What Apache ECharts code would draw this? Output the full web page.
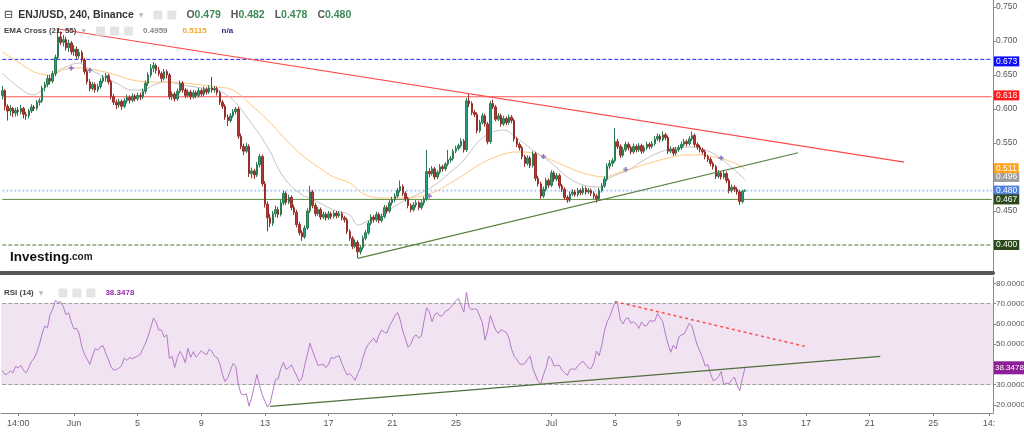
<!DOCTYPE html>
<html><head><meta charset="utf-8">
<script src="https://cdn.jsdelivr.net/npm/echarts@6/dist/echarts.min.js"></script>
<style>html,body{margin:0;padding:0;background:#fff}#c{width:1024px;height:434px}</style>
</head><body><div id="c"></div><script>
// ---- axis ticks ----
const tickIdx = [6,27,51,75,99,123,147,171,207,231,255,279,303,327,351,372];
const tickText = ['14:00','Jun','5','9','13','17','21','25','Jul','5','9','13','17','21','25','14:'];
const slotCount = 374;
// ---- candles (4h) ----
const open = [0.620,0.627,0.604,0.597,0.601,0.594,0.598,0.596,0.601,0.592,0.590,0.597,0.603,0.601,0.610,0.612,0.631,0.636,0.645,0.641,
0.652,0.676,0.706,0.698,0.702,0.690,0.697,0.684,0.688,0.678,0.683,0.672,0.655,0.640,0.630,0.636,0.628,0.633,0.641,0.646,
0.649,0.640,0.618,0.610,0.606,0.611,0.604,0.612,0.617,0.613,0.619,0.615,0.620,0.618,0.626,0.638,0.650,0.660,0.664,0.657,
0.652,0.645,0.655,0.650,0.618,0.622,0.615,0.626,0.638,0.628,0.620,0.625,0.618,0.624,0.620,0.627,0.622,0.629,0.625,0.631,
0.628,0.630,0.624,0.610,0.604,0.588,0.583,0.590,0.596,0.600,0.560,0.545,0.538,0.545,0.505,0.509,0.503,0.518,0.530,0.490,
0.460,0.440,0.432,0.446,0.452,0.445,0.462,0.476,0.463,0.470,0.455,0.448,0.430,0.418,0.412,0.425,0.450,0.478,0.458,0.446,
0.452,0.441,0.445,0.440,0.446,0.442,0.447,0.443,0.446,0.440,0.437,0.420,0.410,0.398,0.404,0.390,0.396,0.410,0.418,0.432,
0.441,0.437,0.445,0.436,0.442,0.455,0.450,0.462,0.467,0.472,0.480,0.486,0.476,0.468,0.458,0.452,0.459,0.462,0.455,0.462,
0.468,0.508,0.505,0.512,0.500,0.507,0.515,0.512,0.519,0.525,0.527,0.538,0.542,0.546,0.553,0.540,0.612,0.608,0.595,0.592,
0.568,0.580,0.590,0.578,0.552,0.608,0.603,0.585,0.590,0.578,0.586,0.580,0.588,0.583,0.556,0.548,0.543,0.530,0.520,0.528,
0.517,0.534,0.498,0.490,0.472,0.482,0.495,0.488,0.506,0.497,0.502,0.487,0.482,0.470,0.466,0.475,0.478,0.474,0.480,0.477,
0.483,0.478,0.480,0.476,0.472,0.468,0.480,0.487,0.497,0.516,0.520,0.524,0.552,0.545,0.532,0.540,0.548,0.543,0.537,0.545,
0.540,0.546,0.538,0.543,0.548,0.545,0.549,0.556,0.560,0.555,0.562,0.558,0.538,0.541,0.535,0.540,0.543,0.548,0.552,0.549,
0.556,0.561,0.548,0.544,0.540,0.537,0.530,0.526,0.520,0.515,0.501,0.506,0.500,0.505,0.495,0.480,0.485,0.482,0.478,0.464,0.479];
const high = [0.634,0.629,0.607,0.606,0.603,0.602,0.603,0.606,0.603,0.596,0.600,0.607,0.606,0.613,0.616,0.634,0.640,0.650,0.650,0.656,
0.680,0.718,0.714,0.709,0.706,0.702,0.700,0.694,0.692,0.688,0.686,0.675,0.659,0.644,0.640,0.639,0.637,0.645,0.650,0.653,
0.652,0.643,0.622,0.614,0.615,0.614,0.616,0.621,0.620,0.623,0.622,0.624,0.624,0.630,0.642,0.654,0.666,0.669,0.667,0.662,
0.655,0.659,0.658,0.653,0.626,0.625,0.630,0.642,0.641,0.631,0.629,0.628,0.628,0.627,0.631,0.630,0.633,0.632,0.635,0.647,
0.634,0.633,0.627,0.613,0.607,0.592,0.594,0.600,0.603,0.603,0.564,0.549,0.550,0.548,0.514,0.512,0.522,0.534,0.533,0.494,
0.464,0.446,0.450,0.458,0.456,0.466,0.480,0.479,0.474,0.473,0.459,0.452,0.434,0.422,0.429,0.454,0.487,0.481,0.462,0.456,
0.455,0.449,0.448,0.450,0.449,0.451,0.450,0.450,0.449,0.443,0.440,0.423,0.413,0.408,0.407,0.400,0.414,0.422,0.436,0.445,
0.444,0.449,0.448,0.446,0.459,0.458,0.466,0.471,0.476,0.484,0.495,0.489,0.479,0.471,0.461,0.463,0.466,0.465,0.466,0.471,
0.540,0.513,0.516,0.515,0.510,0.519,0.518,0.522,0.540,0.531,0.541,0.546,0.549,0.557,0.556,0.616,0.622,0.611,0.599,0.595,
0.584,0.594,0.593,0.581,0.612,0.614,0.606,0.594,0.593,0.590,0.589,0.592,0.591,0.586,0.559,0.551,0.546,0.533,0.532,0.531,
0.538,0.537,0.502,0.493,0.486,0.499,0.498,0.510,0.509,0.506,0.505,0.490,0.485,0.473,0.479,0.482,0.481,0.484,0.483,0.487,
0.486,0.484,0.483,0.479,0.475,0.484,0.491,0.501,0.520,0.525,0.528,0.572,0.556,0.548,0.544,0.552,0.551,0.546,0.549,0.548,
0.550,0.549,0.547,0.552,0.551,0.553,0.560,0.564,0.563,0.567,0.565,0.561,0.545,0.544,0.544,0.547,0.552,0.556,0.555,0.560,
0.567,0.564,0.551,0.547,0.543,0.540,0.533,0.529,0.523,0.518,0.510,0.509,0.509,0.508,0.498,0.489,0.488,0.485,0.481,0.481,0.482];
const low = [0.614,0.598,0.583,0.590,0.588,0.589,0.590,0.592,0.586,0.584,0.586,0.594,0.597,0.598,0.605,0.609,0.626,0.632,0.636,0.638,
0.648,0.672,0.694,0.692,0.686,0.684,0.680,0.678,0.674,0.674,0.668,0.651,0.636,0.626,0.627,0.624,0.625,0.630,0.638,0.640,
0.636,0.614,0.606,0.600,0.602,0.599,0.601,0.608,0.608,0.610,0.611,0.612,0.613,0.615,0.622,0.634,0.646,0.654,0.652,0.648,
0.640,0.642,0.645,0.614,0.613,0.611,0.612,0.623,0.624,0.616,0.617,0.614,0.615,0.616,0.617,0.618,0.619,0.621,0.622,0.624,
0.624,0.620,0.606,0.600,0.584,0.575,0.580,0.587,0.592,0.556,0.541,0.532,0.535,0.500,0.498,0.497,0.500,0.514,0.486,0.455,
0.420,0.426,0.428,0.441,0.440,0.442,0.458,0.459,0.460,0.451,0.444,0.426,0.414,0.406,0.409,0.422,0.447,0.454,0.442,0.443,
0.437,0.438,0.436,0.437,0.438,0.439,0.439,0.440,0.436,0.433,0.416,0.406,0.394,0.395,0.381,0.386,0.393,0.407,0.415,0.429,
0.433,0.434,0.432,0.433,0.439,0.446,0.447,0.458,0.463,0.469,0.477,0.472,0.464,0.454,0.448,0.449,0.455,0.451,0.452,0.458,
0.465,0.500,0.502,0.496,0.497,0.504,0.508,0.509,0.516,0.521,0.524,0.535,0.539,0.543,0.536,0.537,0.603,0.591,0.588,0.564,
0.565,0.577,0.574,0.548,0.549,0.600,0.582,0.582,0.574,0.575,0.576,0.577,0.579,0.552,0.544,0.539,0.526,0.515,0.517,0.513,
0.514,0.494,0.486,0.468,0.469,0.479,0.484,0.485,0.493,0.494,0.483,0.478,0.466,0.462,0.463,0.472,0.471,0.471,0.473,0.474,
0.474,0.475,0.472,0.468,0.462,0.465,0.477,0.484,0.494,0.512,0.515,0.521,0.541,0.528,0.529,0.537,0.539,0.533,0.534,0.536,
0.537,0.534,0.535,0.540,0.541,0.542,0.546,0.553,0.551,0.552,0.554,0.534,0.535,0.531,0.532,0.537,0.540,0.545,0.545,0.546,
0.553,0.544,0.540,0.536,0.533,0.526,0.522,0.516,0.511,0.497,0.498,0.496,0.497,0.491,0.476,0.477,0.478,0.474,0.459,0.461,0.478];
const close = [0.627,0.604,0.597,0.601,0.594,0.598,0.596,0.601,0.592,0.590,0.597,0.603,0.601,0.610,0.612,0.631,0.636,0.645,0.641,0.652,
0.676,0.706,0.698,0.702,0.690,0.697,0.684,0.688,0.678,0.683,0.672,0.655,0.640,0.630,0.636,0.628,0.633,0.641,0.646,0.649,
0.640,0.618,0.610,0.606,0.611,0.604,0.612,0.617,0.613,0.619,0.615,0.620,0.618,0.626,0.638,0.650,0.660,0.664,0.657,0.652,
0.645,0.655,0.650,0.618,0.622,0.615,0.626,0.638,0.628,0.620,0.625,0.618,0.624,0.620,0.627,0.622,0.629,0.625,0.631,0.628,
0.630,0.624,0.610,0.604,0.588,0.583,0.590,0.596,0.600,0.560,0.545,0.538,0.545,0.505,0.509,0.503,0.518,0.530,0.490,0.460,
0.440,0.432,0.446,0.452,0.445,0.462,0.476,0.463,0.470,0.455,0.448,0.430,0.418,0.412,0.425,0.450,0.478,0.458,0.446,0.452,
0.441,0.445,0.440,0.446,0.442,0.447,0.443,0.446,0.440,0.437,0.420,0.410,0.398,0.404,0.390,0.396,0.410,0.418,0.432,0.441,
0.437,0.445,0.436,0.442,0.455,0.450,0.462,0.467,0.472,0.480,0.486,0.476,0.468,0.458,0.452,0.459,0.462,0.455,0.462,0.468,
0.508,0.505,0.512,0.500,0.507,0.515,0.512,0.519,0.525,0.527,0.538,0.542,0.546,0.553,0.540,0.612,0.608,0.595,0.592,0.568,
0.580,0.590,0.578,0.552,0.608,0.603,0.585,0.590,0.578,0.586,0.580,0.588,0.583,0.556,0.548,0.543,0.530,0.520,0.528,0.517,
0.534,0.498,0.490,0.472,0.482,0.495,0.488,0.506,0.497,0.502,0.487,0.482,0.470,0.466,0.475,0.478,0.474,0.480,0.477,0.483,
0.478,0.480,0.476,0.472,0.468,0.480,0.487,0.497,0.516,0.520,0.524,0.552,0.545,0.532,0.540,0.548,0.543,0.537,0.545,0.540,
0.546,0.538,0.543,0.548,0.545,0.549,0.556,0.560,0.555,0.562,0.558,0.538,0.541,0.535,0.540,0.543,0.548,0.552,0.549,0.556,
0.561,0.548,0.544,0.540,0.537,0.530,0.526,0.520,0.515,0.501,0.506,0.500,0.505,0.495,0.480,0.485,0.482,0.478,0.464,0.479,0.480];
// ---- EMA readings [slot, price] ----
const ema21 = [[0,0.6525],[6,0.6324],[12,0.6206],[14,0.625],[17,0.6353],[20,0.653],[24,0.6618],[29,0.6676],[32,0.6603],[37,0.65],
[43,0.6382],[49,0.6279],[53,0.6279],[57,0.6353],[62,0.6397],[68,0.6353],[75,0.6309],[81,0.6279],[87,0.6132],[93,0.5838],
[100,0.5441],[106,0.5],[112,0.4765],[119,0.4632],[125,0.4515],[131,0.4441],[134,0.4294],[137,0.4338],[144,0.4471],[150,0.4618],
[156,0.4735],[162,0.4853],[169,0.5074],[174,0.525],[179,0.55],[184,0.5647],[189,0.5691],[194,0.5574],[200,0.5397],[207,0.5206],
[213,0.5],[219,0.4882],[225,0.4853],[229,0.4985],[236,0.5103],[242,0.525],[248,0.5368],[254,0.5426],[260,0.5441],[267,0.5368],
[273,0.5206],[280,0.4959]];
const ema55 = [[0,0.6838],[6,0.6691],[12,0.6544],[18,0.65],[24,0.6588],[30,0.6603],[37,0.6559],[43,0.65],[49,0.6426],[56,0.6397],
[62,0.6397],[68,0.6382],[75,0.6353],[81,0.6324],[87,0.6279],[93,0.6088],[100,0.5838],[106,0.5588],[112,0.5353],[119,0.5147],
[125,0.5],[131,0.4912],[137,0.4735],[144,0.4691],[150,0.4691],[156,0.4706],[162,0.4765],[169,0.4912],[175,0.5059],[181,0.5206],
[188,0.5324],[194,0.5368],[200,0.5353],[207,0.525],[213,0.5147],[219,0.5059],[227,0.5],[232,0.5059],[238,0.5132],[244,0.5206],
[251,0.5279],[257,0.5324],[263,0.5324],[270,0.5279],[276,0.5206],[280,0.5115]];
const crossPts = [[26,0.660],[33,0.657],[161,0.472],[204,0.530],[235,0.511],[271,0.528]];
// ---- RSI(14) ----
const rsi = [37,35,35.5,36.8,35.9,39,38.4,39.5,37,35.9,38.4,41.5,43,46,50,55,59,58,64.5,67.2,
71.5,70.5,71,68.5,64.5,65.5,61,57.5,57.8,55,48.5,45,42.5,40,44.2,47.8,47,48.8,49.2,45.5,
42.5,38.8,37.2,37.5,38.2,39.6,43.2,42,43.5,42.8,43.5,44,45,47.8,50.5,54,58.5,62.8,60.8,57,
57,53.5,54.6,43,44,38.5,43.4,46.5,44.2,40.9,48,43.5,46.3,43.6,45,46.8,45.5,44.8,47.5,46.5,
44,43.4,40.3,35,31.5,33.5,37,40.5,39,30,25.5,25,25.5,19.5,23.5,29.5,35,29.5,25,21.8,
19,21,27,32.5,33,38,41,37.5,38.5,39.8,37,34.3,31.5,33.5,39.5,45,50.5,46.5,43,39.5,
39.8,40.2,38.4,40.1,43.5,43,43.8,44.3,40.5,37.5,34.8,35.5,34,32.2,35.5,38.4,43.5,47.5,49.9,51.5,
53,50.7,54.5,57,56,55.5,59,61.4,64,65.6,62,56.5,52.5,48.5,50,53.5,54.5,53,54,61.5,
67.9,66,61,64.5,65.5,63.8,64.2,66.2,66.8,68.2,69.5,71.5,72.6,69,65.8,75.5,68,67,67.5,67,
63.8,60.5,52,57,64.2,60.3,57,55.3,57.2,56.5,55.8,53,47.5,44,42.5,40.3,40,40.5,42.5,44.2,
38.2,34.8,31.5,30.5,35,38.5,44,42.8,39.2,39.6,39.5,37.2,35.9,34.6,37.5,37.9,37.5,39.3,40.8,41.5,
39.7,38.3,38,40.8,46.6,44.3,49.5,56.5,61,63.6,67.1,70.8,69.5,62,60,62.5,63,60.3,61,60,
57.8,61,59,59.2,61.5,61.4,61.5,65,63.2,61,55,50,46,49.5,47.6,53.5,54.5,55,57.5,60.3,
59,54,49.5,46.5,43.3,39.2,40,35.5,32,32.5,34,36.5,30,30.8,30.5,32.5,33.8,30,27,33,38.3478];
const rsiLast = 38.3478;
// ---- drawn levels / trend lines ----
const priceLevels = [0.673,0.618,0.480,0.467,0.400];
const emaLast = [0.4959,0.5115];
const redTrend = [[21,0.7176],[340,0.522]];
const greenTrend = [[134,0.3804],[300,0.5357]];
const rsiBand = [30,70];
const rsiRedTrend = [[231,71.0],[303,48.8]];
const rsiGreenTrend = [[101,19.3],[331,44.0]];

// ---- build ----
const cats = [];
const t0 = Date.UTC(2021,4,27,14);
for (let i=0;i<slotCount;i++){ const d=new Date(t0+i*4*3600e3); cats.push(d.toISOString().slice(0,16)); }
const tickMap = {}; tickIdx.forEach((k,j)=>tickMap[k]=tickText[j]);
const candles = close.map((c,i)=>[open[i],close[i],low[i],high[i]]);
const FONT = 'Liberation Sans, Arial, sans-serif';
const NONE = 'rgba(0,0,0,0)';

function boxLabel(text,bg,dy){
  return {show:true,position:'end',distance:1,formatter:text,color:'#fff',backgroundColor:bg,padding:[1,2,0,2],
    fontSize:8.5,lineHeight:9,height:9,fontFamily:FONT,offset:[0,dy||0]};
}
const levelStyle = [
  {color:'#2424ff',type:'dashed',width:1,bg:'#0d0dff',dy:0},
  {color:'#ff5555',type:'solid',width:1,bg:'#ff1a1a',dy:0},
  {color:'#b7cdf4',type:'dotted',width:2,bg:'#4f7fe0',dy:0},
  {color:'#5f8f45',type:'solid',width:1,bg:'#2b4a1c',dy:2},
  {color:'#4a7a35',type:'dashed',width:1,bg:'#2b4a1c',dy:0}
];
const levelSeries = priceLevels.map((v,k)=>({
  type:'line',xAxisIndex:0,yAxisIndex:0,data:[[0,v],[slotCount-1,v]],showSymbol:false,symbol:'none',silent:true,
  lineStyle:{color:levelStyle[k].color,type:levelStyle[k].type,width:levelStyle[k].width},z:1
}));
const chart = echarts.init(document.getElementById('c'), null, {renderer:'canvas'});
const rich = {
  box:{fontSize:11,color:'#666',fontFamily:'DejaVu Sans'},
  main:{fontSize:10.5,color:'#333',fontFamily:FONT},
  arr:{fontSize:6,color:'#bbb',fontFamily:'DejaVu Sans'},
  ic:{backgroundColor:'#e4e4e4',width:9,height:9,borderRadius:1},
  k:{fontSize:10.5,color:'#555',fontFamily:FONT},
  v:{fontSize:10.5,color:'#3d8b58',fontFamily:FONT},
  s:{fontSize:8,color:'#444',fontFamily:FONT},
  g:{fontSize:8,color:'#888',fontFamily:FONT},
  o:{fontSize:8,color:'#f5a623',fontFamily:FONT},
  n:{fontSize:8,color:'#2b2b8c',fontFamily:FONT},
  p:{fontSize:8,color:'#9c27b0',fontFamily:FONT},
  big:{fontSize:13.5,fontWeight:'bold',color:'#111',fontFamily:FONT},
  com:{fontSize:10,color:'#222',fontFamily:FONT}
};
const lastC = close[close.length-1];
chart.setOption({
  animation:false,
  backgroundColor:'#fff',
  title:[
    {left:4,top:6,padding:0,text:'{box|⊟} {main|ENJ/USD, 240, Binance} {arr|▼}  {ic|} {ic|}  {k|O}{v|'+open[280].toFixed(3)+'}  {k|H}{v|'+high[280].toFixed(3)+'}  {k|L}{v|'+low[280].toFixed(3)+'}  {k|C}{v|'+lastC.toFixed(3)+'}',textStyle:{rich}},
    {left:4,top:22,padding:0,text:'{s|EMA Cross (21, 55)} {arr|▼}  {ic|} {ic|} {ic|}  {g|'+emaLast[0].toFixed(4)+'}   {o|'+emaLast[1].toFixed(4)+'}   {n|n/a}',textStyle:{rich}},
    {left:4,top:284,padding:0,text:'{s|RSI (14)} {arr|▼}   {ic|} {ic|} {ic|}  {p|'+rsiLast.toFixed(4)+'}',textStyle:{rich}},
    {left:10,top:250,padding:0,text:'{big|Investing}{com|.com}',textStyle:{rich}}
  ],
  grid:[
    {left:1,right:31,top:0,height:273,outerBoundsMode:'none'},
    {left:1,right:31,top:277,height:136,outerBoundsMode:'none'}
  ],
  xAxis:[
    {type:'category',gridIndex:0,data:cats,boundaryGap:true,
     axisLine:{show:true,lineStyle:{color:'#555',width:4}},axisTick:{show:false},axisLabel:{show:false},splitLine:{show:false}},
    {type:'category',gridIndex:1,data:cats,boundaryGap:true,
     axisLine:{show:true,lineStyle:{color:'#888',width:1}},
     axisTick:{show:true,alignWithLabel:true,length:3,lineStyle:{color:'#888'},interval:(i)=>tickMap[i]!==undefined},
     axisLabel:{show:true,interval:(i)=>tickMap[i]!==undefined,formatter:(v,i)=>tickMap[i]||'',fontSize:9,color:'#555',fontFamily:FONT,margin:6},
     splitLine:{show:false}}
  ],
  yAxis:[
    {type:'value',gridIndex:0,position:'right',min:0.35882,max:0.76029,splitNumber:8,
     axisLine:{show:true,lineStyle:{color:'#888'}},axisTick:{show:true,length:3,lineStyle:{color:'#888'}},
     axisLabel:{showMinLabel:false,showMaxLabel:false,formatter:(v)=>v.toFixed(3),fontSize:8.5,color:'#555',fontFamily:FONT,margin:3},
     splitLine:{show:false}},
    {type:'value',gridIndex:1,position:'right',min:16.06,max:83.12,splitNumber:7,
     axisLine:{show:true,lineStyle:{color:'#888'}},axisTick:{show:true,length:3,lineStyle:{color:'#888'}},
     axisLabel:{showMinLabel:false,showMaxLabel:false,formatter:(v)=>v.toFixed(4),fontSize:8,color:'#555',fontFamily:FONT,margin:3},
     splitLine:{show:false}}
  ],
  series:[
    ...levelSeries,
    {type:'candlestick',xAxisIndex:0,yAxisIndex:0,data:candles,barWidth:2,z:3,
     itemStyle:{color:'#22a284',color0:'#b23c35',borderColor:'#2c7a52',borderColor0:'#962f2a',borderWidth:1}},
    {type:'line',xAxisIndex:0,yAxisIndex:0,data:ema21,smooth:0.4,showSymbol:false,symbol:'none',
     lineStyle:{color:'#c4c4c4',width:1},z:2,
     markLine:{silent:true,symbol:['none','none'],data:[
       {yAxis:emaLast[0],lineStyle:{color:NONE,width:0},label:boxLabel(emaLast[0].toFixed(3),'#9e9e9e',0)},
       {yAxis:emaLast[1],lineStyle:{color:NONE,width:0},label:boxLabel(emaLast[1].toFixed(3),'#ffa21f',-2)},
       ...priceLevels.map((v,k)=>({yAxis:v,lineStyle:{color:NONE,width:0},label:boxLabel(v.toFixed(3),levelStyle[k].bg,levelStyle[k].dy)})),
       [{coord:redTrend[0],lineStyle:{color:'#ff4a4a',width:1.2,type:'solid'},label:{show:false}},{coord:redTrend[1]}],
       [{coord:greenTrend[0],lineStyle:{color:'#557f3c',width:1.2,type:'solid'},label:{show:false}},{coord:greenTrend[1]}]
     ]}},
    {type:'line',xAxisIndex:0,yAxisIndex:0,data:ema55,smooth:0.4,showSymbol:false,symbol:'none',
     lineStyle:{color:'#ffc781',width:1},z:2},
    {type:'scatter',xAxisIndex:0,yAxisIndex:0,data:crossPts,symbol:'path://M2,0H4V2H6V4H4V6H2V4H0V2H2Z',symbolSize:5,
     itemStyle:{color:'#6b5fc4'},z:5},
    {type:'line',xAxisIndex:1,yAxisIndex:1,data:rsi,showSymbol:false,symbol:'none',
     lineStyle:{color:'#b57ac8',width:1},
     markArea:{silent:true,itemStyle:{color:'#f1e3f2'},data:[[{yAxis:rsiBand[0]},{yAxis:rsiBand[1]}]]},
     markLine:{silent:true,symbol:['none','none'],
       data:[
         [{coord:[0,rsiBand[1]],lineStyle:{color:'#a0a0a0',type:'dashed',width:1},label:{show:false}},{coord:[slotCount-1,rsiBand[1]]}],
         [{coord:[0,rsiBand[0]],lineStyle:{color:'#a0a0a0',type:'dashed',width:1},label:{show:false}},{coord:[slotCount-1,rsiBand[0]]}],
         {yAxis:rsiLast,lineStyle:{color:NONE,width:0},label:Object.assign(boxLabel(rsiLast.toFixed(4),'#8e1f96',0),{padding:[2,1,1,1],height:10,lineHeight:10,fontSize:8})},
         [{coord:rsiRedTrend[0],lineStyle:{color:'#ff5050',width:1.5,type:[3,3]},label:{show:false}},{coord:rsiRedTrend[1]}],
         [{coord:rsiGreenTrend[0],lineStyle:{color:'#4e6e3a',width:1.2,type:'solid'},label:{show:false}},{coord:rsiGreenTrend[1]}]
       ]}}
  ]
});
</script></body></html>
